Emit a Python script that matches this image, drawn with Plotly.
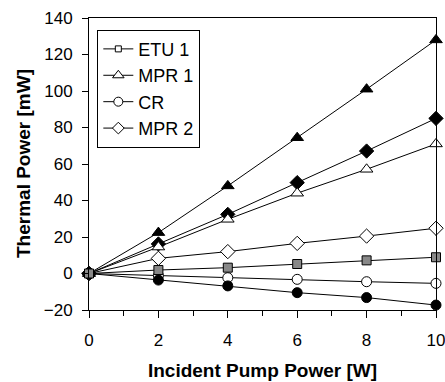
import plotly.graph_objects as go

x = [0, 2, 4, 6, 8, 10]
etu1 = [0, 1.9, 3.2, 5.2, 7.2, 8.9]
mpr1_open = [0, 14.5, 29.7, 44, 57.1, 71]
mpr1_fill = [0, 22.4, 48, 74.4, 101, 128]
cr_open = [0, -1.2, -2.3, -3.2, -4.5, -5.4]
cr_fill = [0, -3.6, -6.8, -10.5, -13.2, -17.3]
mpr2_open = [0, 8.3, 12, 16.5, 20.5, 24.8]
mpr2_fill = [0, 16.2, 32.4, 49.8, 67.1, 85]

font = "Liberation Sans, Arial, sans-serif"
fig = go.Figure()

def add(y, name, symbol, fill, size):
    fig.add_trace(go.Scatter(
        x=x, y=y, name=name, mode="lines+markers", showlegend=False,
        line=dict(color="black", width=1),
        marker=dict(symbol=symbol, size=size, color=fill,
                    line=dict(color="black", width=1)),
        cliponaxis=False,
    ))

add(cr_open, "CR", "circle", "white", 10)
add(cr_fill, "CR f", "circle", "black", 10)
add(mpr2_open, "MPR 2", "diamond", "white", 11)
add(mpr2_fill, "MPR 2 f", "diamond", "black", 11)
add(mpr1_open, "MPR 1", "triangle-up", "white", 11)
add(mpr1_fill, "MPR 1 f", "triangle-up", "black", 11)
add(etu1, "ETU 1 f", "square", "#888888", 9)

# legend-only entries
for name, sym, sz in [("ETU 1", "square", 6), ("MPR 1", "triangle-up", 10),
                      ("CR", "circle", 9), ("MPR 2", "diamond", 9)]:
    fig.add_trace(go.Scatter(
        x=[None], y=[None], name=name, mode="lines+markers",
        line=dict(color="black", width=1),
        marker=dict(symbol=sym, size=sz, color="white",
                    line=dict(color="black", width=1)),
    ))

W, H = 445, 382
L, R, T, B = 89, 9, 18, 72
pw = W - L - R

fig.update_layout(
    width=W, height=H,
    margin=dict(l=L, r=R, t=T, b=B),
    paper_bgcolor="white", plot_bgcolor="white",
    font=dict(family=font, size=17, color="black"),
    legend=dict(x=0.024, y=0.96, xanchor="left", yanchor="top",
                bordercolor="black", borderwidth=1, bgcolor="white",
                font=dict(size=18), itemwidth=30, tracegroupgap=0),
    xaxis=dict(range=[0, 10], dtick=2, tick0=0, showgrid=False, zeroline=False,
               showline=True, linecolor="black", linewidth=1, mirror=True,
               ticks="outside", ticklen=7, tickcolor="black", ticklabelstandoff=8,
               automargin=False, ticklabeloverflow="allow",
               minor=dict(dtick=1, ticks="outside", ticklen=5, tickcolor="black"),
               title=dict(text="<b>Incident Pump Power [W]</b>", font=dict(size=19), standoff=14)),
    yaxis=dict(range=[-20, 140], dtick=20, showgrid=False, zeroline=False,
               showline=True, linecolor="black", linewidth=1, mirror=True,
               ticks="outside", ticklen=6, tickcolor="black", ticklabelstandoff=6,
               automargin=False, ticklabeloverflow="allow"),
    annotations=[dict(text="<b>Thermal Power [mW]</b>", textangle=-90,
                      xref="paper", yref="paper", x=(23 - L) / pw, y=0.5,
                      xanchor="center", yanchor="middle", showarrow=False,
                      font=dict(size=19))],
)

fig.write_html("out.html")
